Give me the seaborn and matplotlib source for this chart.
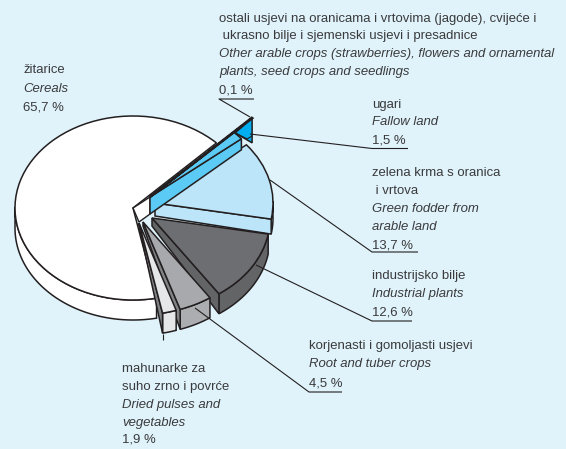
import numpy as np
import matplotlib
matplotlib.use("Agg")
import matplotlib.pyplot as plt
from matplotlib.patches import Polygon
import seaborn as sns

# ---- data (share of utilised arable land, %) ----
categories = ["Cereals", "Dried pulses and vegetables", "Root and tuber crops",
              "Industrial plants", "Green fodder from arable land",
              "Fallow land", "Other arable crops"]
values = [65.7, 1.9, 4.5, 12.6, 13.7, 1.5, 0.1]

# ---- styling ----
top_colors = ["#FFFFFF", "#E6E7E8", "#A7A9AC", "#6D6E71", "#BDE5F9", "#5BCBF5", "#00AEEF"]
side_colors = ["#FFFFFF", "#E6E7E8", "#ABADB0", "#636466", "#BDE5F9", "#5BCBF5", "#00AEEF"]
cut_colors = ["#FFFFFF", "#808285", "#808285", "#636466", "#BDE5F9", "#5BCBF5", "#00AEEF"]
offsets_px = [(0, 0), (6, 15), (10, 14), (19, 10), (22, -5), (17, -11), (17, -11)]
depth_px = [20, 20, 20, 20, 15, 11, 0]
apex_depth_px = [0, 3, 4, 8, 13, 17, 0]
layer = [1, 13, 11, 9, 3, 5, 7]
BG = "#E0F3FB"
INK = "#231F20"
TXT = "#3A3A3C"

sns.set_theme(style="white")
plt.rcParams["font.family"] = ["Liberation Sans", "DejaVu Sans"]

W, H = 566, 449
CX, CY, RX, RY = 133, 208, 118, 92

fig = plt.figure(figsize=(W / 100, H / 100), dpi=100, facecolor=BG)
ax = fig.add_axes([0, 0, 1, 1], facecolor=BG)
palette = sns.color_palette(top_colors)
wedges, _ = ax.pie(values, startangle=45, counterclock=True, colors=palette,
                   wedgeprops=dict(edgecolor=INK, linewidth=1.1))
ax.set_aspect("auto")
ax.set_xlim(-CX / RX, (W - CX) / RX)
ax.set_ylim((CY - H) / RY, CY / RY)
ax.axis("off")


def u(px, py):
    """Reference pixel position -> pie units."""
    return (px - CX) / RX, (CY - py) / RY


for w, off, d, ad, z, sc, cc in zip(wedges, offsets_px, depth_px, apex_depth_px,
                                    layer, side_colors, cut_colors):
    cx, cy = off[0] / RX, -off[1] / RY
    w.set_center((cx, cy))
    w.set_zorder(z + 1)
    if d == 0:
        continue
    dy = d / RY
    th = np.radians(np.linspace(w.theta1, w.theta2, 200))
    th = th[np.sin(th) <= 0.02]
    if len(th) > 1:
        xs = cx + np.cos(th)
        ys = cy + np.sin(th)
        pts = np.r_[np.c_[xs, ys], np.c_[xs, ys - dy][::-1]]
        ax.add_patch(Polygon(pts, closed=True, facecolor=sc, edgecolor=INK,
                             linewidth=1.1, zorder=z))
    if ad > 0:
        t1 = np.radians(w.theta1)
        rim = (cx + np.cos(t1), cy + np.sin(t1))
        pts = [(cx, cy), rim, (rim[0], rim[1] - dy), (cx, cy - ad / RY)]
        ax.add_patch(Polygon(pts, closed=True, facecolor=cc, edgecolor=INK,
                             linewidth=1.1, zorder=z + 0.5))

# the two small wedges that stick out at the top right
tiny = wedges[-1]
tiny.set_radius(1.22)
tiny.set_linewidth(1.6)
t_mid = np.radians((tiny.theta1 + tiny.theta2) / 2)
tip = np.array([tiny.center[0] + 1.22 * np.cos(t_mid), tiny.center[1] + 1.22 * np.sin(t_mid)])
ax.add_patch(Polygon([tip, tip + [-17 / RX, -15 / RY], tip + [0, -25 / RY]], closed=True,
                     facecolor=top_colors[-1], edgecolor=INK, linewidth=1.1, zorder=6.5))
ax.plot([tip[0] - 17 / RX, tip[0] - 5 / RX, tip[0]],
        [tip[1] - 15 / RY, tip[1] - 21 / RY, tip[1] - 18 / RY], color=INK, lw=0.8, zorder=6.6)

# white cut face of the cereals slice
ax.add_patch(Polygon([u(133, 208), u(150, 197), u(150, 214), u(139, 222)], closed=True,
                     facecolor="white", edgecolor=INK, linewidth=1.0, zorder=2.5))

# ---- leaders: start, elbow, end of underline ----
leaders = [
    [(250, 117), (219, 99), (254, 99)],
    [(250, 134), (372, 148.5), (408, 148.5)],
    [(270, 180), (372, 252), (418, 252)],
    [(256, 265), (372, 321), (412, 321)],
    [(195, 308), (309, 392), (342, 392)],
    [(163, 334), (163, 340)],
]
for pts in leaders:
    xy = np.array([u(*p) for p in pts])
    ax.plot(xy[:, 0], xy[:, 1], color=INK, lw=0.8, zorder=20, solid_capstyle="butt")

# ---- labels ----
labels = [
    (219, [(21.7, "ostali usjevi na oranicama i vrtovima (jagode), cvijeće i", "normal"),
           (39.5, " ukrasno bilje i sjemenski usjevi i presadnice", "normal"),
           (57.5, "Other arable crops (strawberries), flowers and ornamental", "italic"),
           (75.5, "plants, seed crops and seedlings", "italic"),
           (93.5, "0,1 %", "normal")]),
    (372, [(107.7, "ugari", "normal"), (125.5, "Fallow land", "italic"), (143.5, "1,5 %", "normal")]),
    (372, [(176, "zelena krma s oranica", "normal"), (194, " i vrtova", "normal"),
           (212, "Green fodder from", "italic"), (230, "arable land", "italic"),
           (248.3, "13,7 %", "normal")]),
    (372, [(279, "industrijsko bilje", "normal"), (297, "Industrial plants", "italic"),
           (315.7, "12,6 %", "normal")]),
    (309, [(349, "korjenasti i gomoljasti usjevi", "normal"),
           (367, "Root and tuber crops", "italic"), (386, "4,5 %", "normal")]),
    (122, [(371.7, "mahunarke za", "normal"), (390, "suho zrno i povrće", "normal"),
           (408, "Dried pulses and", "italic"), (426, "vegetables", "italic"),
           (443, "1,9 %", "normal")]),
    (23, [(73, "žitarice", "normal"), (91.7, "Cereals", "italic"), (110, "65,7 %", "normal")]),
]
for x, lines in labels:
    for y, s, st in lines:
        fig.text(x / W, 1 - y / H, s, fontsize=9.45, style=st, color=TXT,
                 ha="left", va="baseline", zorder=30)

fig.savefig("out.png", dpi=100, facecolor=BG)
